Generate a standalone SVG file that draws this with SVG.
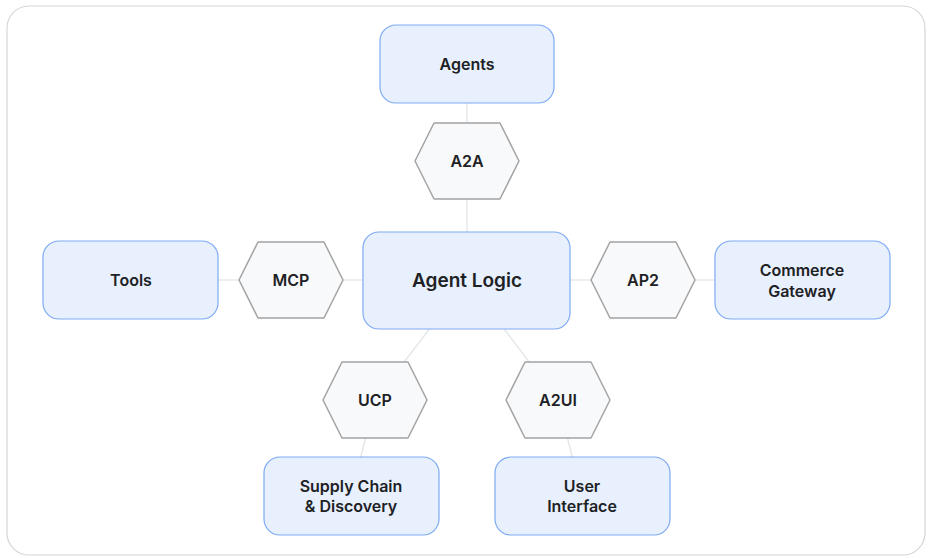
<svg xmlns="http://www.w3.org/2000/svg" width="929" height="558" viewBox="0 0 929 558">
<style>
.frame{fill:#ffffff;stroke:#d6d6d6;stroke-width:1.2}
.box{fill:#e8f0fe;stroke:#7eaaf2;stroke-width:1.2}
.hex{fill:#f8f9fa;stroke:#a3a3a3;stroke-width:1.5;stroke-linejoin:round}
.conn line{stroke:#e6e8eb;stroke-width:1.5}
text{font-family:Inter,"Open Sans","Liberation Sans",sans-serif;font-weight:600;fill:#202124;text-anchor:middle;dominant-baseline:central}
.t{font-size:16px}
.big{font-size:19px}
</style>
<rect x="0" y="0" width="929" height="558" fill="#ffffff"/>
<rect class="frame" x="7" y="6" width="918" height="549" rx="22"/>
<g id="connectors" class="conn">
<line x1="467" y1="64" x2="467" y2="280"/>
<line x1="131" y1="280" x2="802" y2="280"/>
<line x1="467" y1="280" x2="375" y2="400"/>
<line x1="375" y1="400" x2="351" y2="496"/>
<line x1="467" y1="280" x2="558" y2="400"/>
<line x1="558" y1="400" x2="582" y2="496"/>
</g>
<g id="agents"><rect class="box" x="380" y="25" width="174" height="78" rx="16"/><text class="t" x="467" y="64">Agents</text></g>
<g id="a2a"><polygon class="hex" points="415,161 434,123 500,123 519,161 500,199 434,199"/><text class="t" x="467" y="161">A2A</text></g>
<g id="agent-logic"><rect class="box" x="363" y="232" width="207" height="97" rx="16"/><text class="big" x="467" y="280">Agent Logic</text></g>
<g id="tools"><rect class="box" x="43" y="241" width="175" height="78" rx="16"/><text class="t" x="131" y="280">Tools</text></g>
<g id="mcp"><polygon class="hex" points="239,280 258,242 324,242 343,280 324,318 258,318"/><text class="t" x="291" y="280">MCP</text></g>
<g id="ap2"><polygon class="hex" points="591,280 610,242 676,242 695,280 676,318 610,318"/><text class="t" x="643" y="280">AP2</text></g>
<g id="commerce-gateway"><rect class="box" x="715" y="241" width="175" height="78" rx="16"/><text class="t" x="802" y="270">Commerce</text><text class="t" x="802" y="291">Gateway</text></g>
<g id="ucp"><polygon class="hex" points="323,400 342,362 408,362 427,400 408,438 342,438"/><text class="t" x="375" y="400">UCP</text></g>
<g id="a2ui"><polygon class="hex" points="506,400 525,362 591,362 610,400 591,438 525,438"/><text class="t" x="558" y="400">A2UI</text></g>
<g id="supply-chain"><rect class="box" x="264" y="457" width="175" height="78" rx="16"/><text class="t" x="351" y="486">Supply Chain</text><text class="t" x="351" y="506">&amp; Discovery</text></g>
<g id="user-interface"><rect class="box" x="495" y="457" width="175" height="78" rx="16"/><text class="t" x="582" y="486">User</text><text class="t" x="582" y="506">Interface</text></g>
</svg>
